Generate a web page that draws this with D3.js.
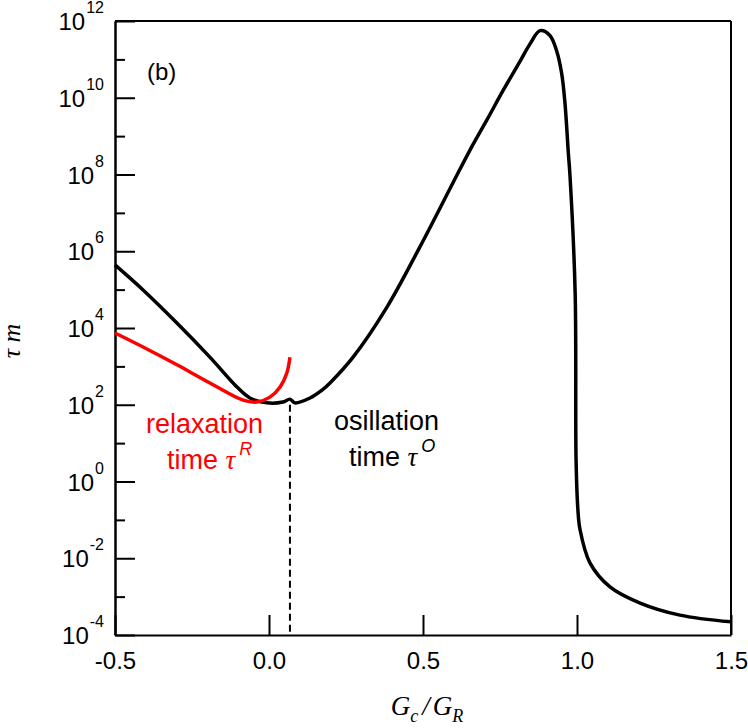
<!DOCTYPE html>
<html>
<head>
<meta charset="utf-8">
<script src="https://cdn.jsdelivr.net/npm/d3@7"></script>
<style>
body { margin: 0; background: #fff; }
</style>
</head>
<body>
<div id="chart"></div>
<script>
// G_c / G_R values and tau*m for the oscillation branch (black)
var gOsc = [-0.5, -0.409, -0.299, -0.192, -0.104, -0.062, -0.006, 0.045, 0.068, 0.084, 0.133, 0.172, 0.198,
    0.273, 0.383, 0.49, 0.597, 0.653, 0.707, 0.761, 0.815, 0.847, 0.88, 0.912, 0.934, 0.95, 0.961, 0.972, 0.977,
    0.994, 0.997, 1.003, 1.01, 1.042, 1.107, 1.205, 1.334, 1.5]
var tauOsc = [4.4e5, 9.8e4, 1.35e4, 1.74e3, 290, 150, 112, 118, 140, 112, 150, 240, 370,
    1.74e3, 3.5e4, 1.3e6, 6.0e7, 4.4e8, 2.6e9, 1.6e10, 8.9e10, 2.5e11, 5.6e11, 4.2e11, 1.66e11, 4.4e10, 7.2e9, 3.5e8, 1.0e8,
    8.1e4, 3.6, 0.18, 0.055, 7.6e-3, 1.8e-3, 6.8e-4, 3.3e-4, 2.2e-4]

// relaxation branch (red)
var gRelax = [-0.5, -0.409, -0.299, -0.192, -0.084, -0.039, 0.003, 0.036, 0.058, 0.068]
var tauRelax = [7.4e3, 3.2e3, 1.1e3, 370, 132, 118, 158, 290, 680, 1.74e3]

var gCritical = 0.068
var xTicks = [-0.5, 0, 0.5, 1.0, 1.5]
var yMajor = [-4, -2, 0, 2, 4, 6, 8, 10, 12]
var yMinor = [-3, -1, 1, 3, 5, 7, 9, 11]

var svg = d3.select("#chart").append("svg").attr("width", 748).attr("height", 728)

var x = d3.scaleLinear().domain([-0.5, 1.5]).range([115, 731])
var y = d3.scaleLog().domain([1e-4, 1e12]).range([635, 21])

// axes with inward ticks
var yAxisMajor = d3.axisLeft(y).tickValues(yMajor.map(function(e) { return Math.pow(10, e) }))
    .tickSize(-20).tickSizeOuter(0).tickFormat("")
var yAxisMinor = d3.axisLeft(y).tickValues(yMinor.map(function(e) { return Math.pow(10, e) }))
    .tickSize(-10).tickSizeOuter(0).tickFormat("")
var xAxis = d3.axisBottom(x).tickValues(xTicks).tickSize(-20).tickSizeOuter(0).tickPadding(17)
    .tickFormat(function(d) { return d.toFixed(1) })

svg.append("g").attr("transform", "translate(115,0)").call(yAxisMajor)
svg.append("g").attr("transform", "translate(115,0)").call(yAxisMinor)
var gx = svg.append("g").attr("transform", "translate(0,635)").call(xAxis)
gx.selectAll("text")
    .style("font-family", "'Liberation Sans', Arial, sans-serif")
    .style("font-size", "24px")
    .attr("fill", "#000")

svg.selectAll(".domain, .tick line").attr("stroke", "#000").attr("stroke-width", 2)

// top and right frame
svg.append("line").attr("x1", 115).attr("x2", 731).attr("y1", 21).attr("y2", 21)
    .attr("stroke", "#000").attr("stroke-width", 2)
svg.append("line").attr("x1", 731).attr("x2", 731).attr("y1", 21).attr("y2", 635)
    .attr("stroke", "#000").attr("stroke-width", 2)

// y tick labels 10^n
var ylab = svg.append("g").selectAll("text").data(yMajor).enter().append("text")
    .attr("x", 104)
    .attr("y", function(e) { return y(Math.pow(10, e)) + 9 })
    .attr("text-anchor", "end")
    .style("font-family", "'Liberation Sans', Arial, sans-serif")
    .style("font-size", "24px")
ylab.append("tspan").text("10")
ylab.append("tspan").attr("dy", -17).attr("dx", 1).style("font-size", "16px")
    .text(function(e) { return String(e) })

// dashed line at the critical value
svg.append("line")
    .attr("x1", x(gCritical)).attr("x2", x(gCritical))
    .attr("y1", y(100)).attr("y2", y(1e-4))
    .attr("stroke", "#000").attr("stroke-width", 2)
    .attr("stroke-dasharray", "7,4")

var line = d3.line()
    .curve(d3.curveCatmullRom.alpha(0.5))
    .x(function(d) { return x(d[0]) })
    .y(function(d) { return y(d[1]) })

svg.append("path")
    .attr("d", line(d3.zip(gOsc, tauOsc)))
    .attr("fill", "none").attr("stroke", "#000").attr("stroke-width", 3.5)
    .attr("stroke-linejoin", "round")

svg.append("path")
    .attr("d", line(d3.zip(gRelax, tauRelax)))
    .attr("fill", "none").attr("stroke", "#f00").attr("stroke-width", 3.5)
    .attr("stroke-linejoin", "round")

// panel label
svg.append("text").attr("x", 147).attr("y", 80)
    .style("font-family", "'Liberation Sans', Arial, sans-serif").style("font-size", "24px")
    .text("(b)")

// annotations
function annotate(x0, y0, word, sup, color) {
    var t1 = svg.append("text").attr("x", x0[0]).attr("y", y0)
        .attr("fill", color)
        .style("font-family", "'Liberation Sans', Arial, sans-serif").style("font-size", "27px")
        .text(word)
    var t2 = svg.append("text").attr("x", x0[1]).attr("y", y0 + 36)
        .attr("fill", color)
        .style("font-family", "'Liberation Sans', Arial, sans-serif").style("font-size", "27px")
    t2.append("tspan").text("time ")
    t2.append("tspan").style("font-family", "'Liberation Serif', serif").style("font-style", "italic")
        .text("\u03c4")
    t2.append("tspan").attr("dx", 4).attr("dy", -14).style("font-size", "18px").style("font-style", "italic")
        .text(sup)
}
annotate([146, 167], 433, "relaxation", "R", "#f00")
annotate([334, 349], 430, "osillation", "O", "#000")

// axis titles
var xt = svg.append("text").attr("x", 427).attr("y", 715).attr("text-anchor", "middle")
    .style("font-family", "'Liberation Serif', 'Times New Roman', serif")
    .style("font-style", "italic").style("font-size", "27px")
xt.append("tspan").text("G")
xt.append("tspan").attr("dy", 7).style("font-size", "18px").text("c")
xt.append("tspan").attr("dy", -7).attr("dx", 4).text("/")
xt.append("tspan").attr("dx", 3).text("G")
xt.append("tspan").attr("dy", 7).style("font-size", "18px").text("R")

svg.append("text")
    .attr("transform", "translate(20,341) rotate(-90)")
    .attr("text-anchor", "middle")
    .style("font-family", "'Liberation Serif', 'Times New Roman', serif")
    .style("font-style", "italic").style("font-size", "26px")
    .text("\u03c4 m")
</script>
</body>
</html>
